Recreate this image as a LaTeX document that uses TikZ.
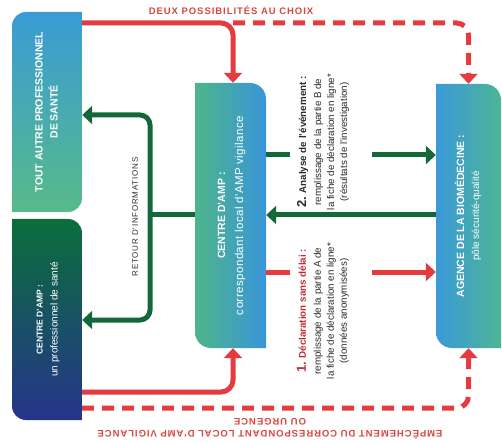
\documentclass[tikz,border=0pt]{standalone}
\usepackage{fontspec}
\setmainfont{Liberation Sans}
\setsansfont{Liberation Sans}
\newfontfamily\lsfont{Liberation Sans}[LetterSpace=10]
\newfontfamily\lsmid{Liberation Sans}[LetterSpace=4]
\usetikzlibrary{arrows.meta}
\definecolor{myred}{HTML}{E53A3F}
\definecolor{mygreen}{HTML}{13683A}
\definecolor{lblred}{HTML}{D9463F}
\definecolor{darkred}{HTML}{C42B35}
\definecolor{txt}{HTML}{2B2B2B}
\definecolor{bAtop}{HTML}{3A9BD5}
\definecolor{bAbot}{HTML}{57BA8A}
\definecolor{bBtop}{HTML}{0B6E3B}
\definecolor{bBbot}{HTML}{25358A}
\definecolor{mLeft}{HTML}{4DB58A}
\definecolor{mRight}{HTML}{3A95DA}
\definecolor{aLeft}{HTML}{3A9AD8}
\definecolor{aRight}{HTML}{4DB595}
\begin{document}
\begin{tikzpicture}[x=1pt,y=-1pt,
  redline/.style={draw=myred,line width=5pt},
  greenline/.style={draw=mygreen,line width=5pt},
  redtip/.style={-{Triangle[width=18pt,length=10pt]}},
  greentip/.style={-{Triangle[width=18pt,length=10pt]}},
  bothtip/.style={{Triangle[width=18pt,length=10pt]}-{Triangle[width=18pt,length=10pt]}},
  dashline/.style={dash pattern=on 12pt off 8pt},
  boxnode/.style={inner sep=0pt,text=white},
  midtext/.style={rotate=90,align=center,text=txt,inner sep=0pt,font=\fontsize{9.8}{13}\selectfont},
  lbl/.style={text=lblred,inner sep=0pt,font=\lsfont\bfseries\fontsize{9.5}{12}\selectfont}
]
\useasboundingbox (0,0) rectangle (502,443);

% shaded box shapes
\shade[top color=bAtop,bottom color=bAbot]
  (12,26) arc[start angle=180,end angle=270,radius=14] -- (82,12) -- (82,198)
  arc[start angle=0,end angle=90,radius=14] -- (12,212) -- cycle;
\shade[top color=bBtop,bottom color=bBbot]
  (12,219) -- (68,219) arc[start angle=270,end angle=360,radius=14] -- (82,420)
  -- (26,420) arc[start angle=90,end angle=180,radius=14] -- cycle;
\shade[left color=mLeft,right color=mRight]
  (195,83) -- (250,83) arc[start angle=270,end angle=360,radius=16] -- (266,348)
  -- (211,348) arc[start angle=90,end angle=180,radius=16] -- cycle;
\shade[left color=aLeft,right color=aRight]
  (436,84) -- (485,84) arc[start angle=270,end angle=360,radius=16] -- (501,348)
  -- (452,348) arc[start angle=90,end angle=180,radius=16] -- cycle;

% named box nodes with rotated text
\node[boxnode,minimum width=70pt,minimum height=200pt] (b1) at (47,112)
  {\rotatebox{90}{\fontsize{10.5}{15}\selectfont\bfseries\begin{tabular}{@{}c@{}}TOUT AUTRE PROFESSIONNEL\\DE SANTÉ\end{tabular}}};
\node[boxnode,minimum width=70pt,minimum height=201pt] (b2) at (47,319.5)
  {\rotatebox{90}{\fontsize{10}{15}\selectfont\begin{tabular}{@{}c@{}}{\bfseries\fontsize{8.5}{15}\selectfont CENTRE D'AMP :}\\un professionnel de santé\end{tabular}}};
\node[boxnode,minimum width=71pt,minimum height=265pt] (mid) at (230.5,215.5)
  {\rotatebox{90}{\fontsize{11}{18}\selectfont\begin{tabular}{@{}c@{}}{\bfseries\fontsize{10.5}{18}\selectfont CENTRE D'AMP :}\\{\lsmid\fontsize{11.5}{18}\selectfont correspondant local d'AMP vigilance}\end{tabular}}};
\node[boxnode,minimum width=65pt,minimum height=264pt] (agence) at (468.5,216)
  {\rotatebox{90}{\fontsize{10}{15}\selectfont\begin{tabular}{@{}c@{}}{\bfseries\fontsize{10.5}{15}\selectfont AGENCE DE LA BIOMÉDECINE :}\\pôle sécurité-qualité\end{tabular}}};

% texts between middle and right
\node[midtext] (t2) at (323,142)
  {{\bfseries{\fontsize{13}{13}\selectfont 2.} Analyse de l'événement :}\\[2pt]
   remplissage de la partie B de\\
   la fiche de déclaration en ligne*\\
   (résultats de l'investigation)};
\node[midtext] (t1) at (323,311)
  {{\color{darkred}\bfseries{\fontsize{13}{13}\selectfont 1.} Déclaration sans délai :}\\[2pt]
   remplissage de la partie A de\\
   la fiche de déclaration en ligne*\\
   (données anonymisées)};

% labels
\node[lbl] (toplbl) at (231,10) {DEUX POSSIBILITÉS AU CHOIX};
\node[lbl,rotate=180,align=center] (botlbl) at (270,429)
  {EMPÊCHEMENT DU CORRESPONDANT LOCAL D'AMP VIGILANCE\\OU URGENCE};
\node[rotate=90,inner sep=0pt,text=txt,font=\lsfont\fontsize{8}{8}\selectfont] (retour) at (135,217)
  {RETOUR D'INFORMATIONS};

% helper coordinates
\coordinate (split) at (233,23);
\coordinate (lowS) at (233,392);
\coordinate (lowD) at (0,408);
\coordinate (g2a) at (290,155);
\coordinate (g2b) at (372,155);
\coordinate (g1a) at (290,272);
\coordinate (g1b) at (372,272);
\coordinate (back) at (0,215);
\coordinate (junc) at (150,215);
\coordinate (r1) at (0,115);
\coordinate (r2) at (0,320);

% red connectors
\draw[redline,dashline,redtip,rounded corners=12pt] (split) -| (agence.north);
\draw[redline,redtip,rounded corners=12pt] (b1.east |- split) -| (mid.north -| split);
\draw[redline,dashline,redtip,rounded corners=12pt] (b2.east |- lowD) -| (agence.south);
\draw[redline,redtip,rounded corners=12pt] (b2.east |- lowS) -| (mid.south -| lowS);
\draw[redline] (mid.east |- g1a) -- (g1a);
\draw[redline,redtip] (g1b) -- (agence.west |- g1b);

% green connectors
\draw[greenline] (mid.east |- g2a) -- (g2a);
\draw[greenline,greentip] (g2b) -- (agence.west |- g2b);
\draw[greenline,greentip] (agence.west |- back) -- (mid.east |- back);
\draw[greenline] (mid.west |- junc) -- (junc);
\draw[greenline,bothtip,rounded corners=10pt] (b1.east |- r1) -| (junc) |- (b2.east |- r2);
\end{tikzpicture}
\end{document}
